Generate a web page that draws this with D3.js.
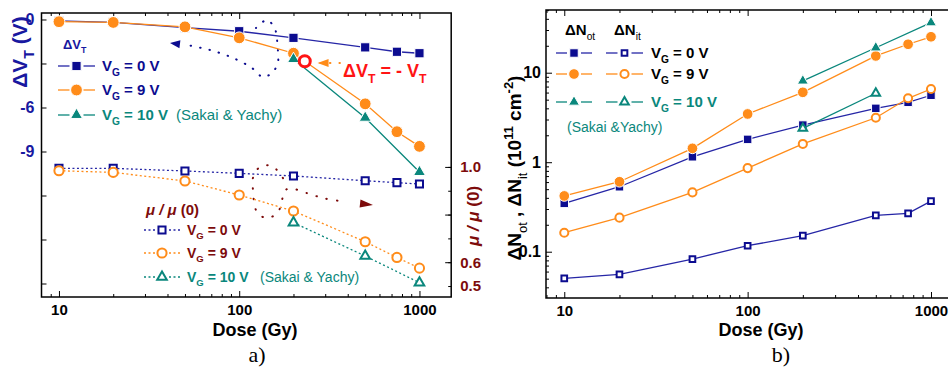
<!DOCTYPE html>
<html lang="en">
<head>
<meta charset="UTF-8">
<title>Dose dependence of VT shift, mobility and trapped charge</title>
<script src="https://d3js.org/d3.v7.min.js"></script>
<style>
  body { margin: 0; background: #fff; }
</style>
</head>
<body>
<div class="chart"></div>
<script>
// ---- data ----
var dose   = [10, 20, 50, 100, 200, 500, 750, 1000];
var doseSY = [200, 500, 1000];          // Sakai & Yachy
var doseSYit = [200, 500];

// a) threshold voltage shift (V)
var dvt0  = [-0.1, -0.2, -0.55, -0.8, -1.25, -1.9, -2.2, -2.3];
var dvt9  = [-0.15, -0.2, -0.5, -1.25, -2.3, -5.75, -7.65, -8.65];
var dvt10 = [-2.7, -6.7, -10.4];

// a) mobility ratio mu/mu(0)
var mu0  = [0.994, 0.994, 0.983, 0.973, 0.962, 0.942, 0.934, 0.928];
var mu9  = [0.984, 0.977, 0.941, 0.882, 0.815, 0.686, 0.62, 0.575];
var mu10 = [0.766, 0.626, 0.514];

// b) trapped charge densities (1e11 cm^-2)
var not0  = [0.347, 0.532, 1.15, 1.8, 2.6, 4.0, 4.67, 5.6];
var not9  = [0.42, 0.605, 1.43, 3.46, 6.04, 15.4, 20.8, 25.2];
var not10 = [8.1, 19, 36.2];
var nit0  = [0.0504, 0.0558, 0.0828, 0.1167, 0.151, 0.255, 0.268, 0.368];
var nit9  = [0.163, 0.24, 0.46, 0.86, 1.6, 3.14, 5.18, 6.58];
var nit10 = [2.39, 5.89];

// ticks
var doseTicks = [10, 100, 1000];
var dvtTicks  = [0, -3, -6, -9, -12, -15, -18];
var dvtLabels = [0, -6, -9];
var muTicks   = [0.5, 0.6, 0.7, 0.8, 0.9, 1.0];
var muMajor   = [0.6, 0.8, 1.0];
var muLabels  = [0.5, 0.6, 1.0];
var nTicks    = [0.1, 1, 10];

// annotations in data units (dose, value)
var loopV  = [[123.9,-0.58],[142.6,-0.03],[157.9,-0.65],[161.9,-1.33],[164,-2.15],[164,-2.9],[153.8,-3.58],[135.4,-3.92],[117.8,-3.31],[92.3,-2.62],[68.8,-2.08],[51.3,-1.74],[41.3,-1.6]];
var loopMu = [[175,0.953],[152.1,1.004],[130.4,1.0],[119.1,0.953],[119.1,0.907],[125.4,0.811],[142.6,0.785],[164.1,0.811],[184.1,0.907],[237.7,0.890],[291.7,0.869],[396.4,0.853],[552,0.840]];
var markVT  = [231, -2.85];
var arrowVT = [[362, -2.97], [272, -2.97]];
var labelVT = [377, -3.92];

// ---- colours ----
var navy = "#0c0c90", navyLine = "#2626a6", orange = "#ff8c1a", teal = "#0a877c",
    maroon = "#7d0b0b", red = "#ff1414", blueText = "#1818a0";

var svg = d3.select(".chart").append("svg")
    .attr("width", 950).attr("height", 367)
    .attr("font-family", "Liberation Sans, Arial, sans-serif")
    .attr("font-weight", "bold");

// helpers
function minors(domain) {
  var out = [];
  for (var k = -3; k <= 4; k++)
    for (var m = 2; m <= 9; m++) {
      var v = m * Math.pow(10, k);
      if (v > domain[0] && v < domain[1]) out.push(v);
    }
  return out;
}

function rich(t, parts, size) {
  var shift = 0;
  parts.forEach(function(p) {
    var s = (p.sub || p.sup) ? size * 0.68 : size;
    var target = p.sub ? size * 0.32 : p.sup ? -size * 0.42 : 0;
    var ts = t.append("tspan").text(p.t).attr("dy", target - shift).attr("font-size", s);
    if (p.i) ts.attr("font-style", "italic");
    if (p.n) ts.attr("font-weight", "normal");
    shift = target;
  });
  return t;
}

function symPath(type, area) {
  var t = type === "sq" ? d3.symbolSquare : type === "ci" ? d3.symbolCircle : d3.symbolTriangle;
  return d3.symbol().type(t).size(area)();
}

function marker(g, type, open, color, x, y, area) {
  g.append("path")
    .attr("d", symPath(type, area))
    .attr("transform", "translate(" + x + "," + y + ")")
    .attr("fill", open ? "#fff" : color)
    .attr("stroke", open ? color : "#fff")
    .attr("stroke-width", open ? 2 : 1);
}

function series(g, xs, ys, xScale, yScale, o) {
  var pts = xs.map(function(d, i) { return [xScale(d), yScale(ys[i])]; });
  g.append("path")
    .attr("d", d3.line()(pts))
    .attr("fill", "none")
    .attr("stroke", o.line || o.color)
    .attr("stroke-width", 1.3)
    .attr("stroke-dasharray", o.dash || null);
  pts.forEach(function(p) { marker(g, o.type, o.open, o.color, p[0], p[1], o.area); });
}

function legendRow(g, x0, x1, y, o) {
  var xm = (x0 + x1) / 2;
  g.append("line").attr("x1", x0).attr("x2", xm - 7).attr("y1", y).attr("y2", y)
    .attr("stroke", o.line || o.color).attr("stroke-width", 1.3).attr("stroke-dasharray", o.dash || null);
  g.append("line").attr("x1", xm + 7).attr("x2", x1).attr("y1", y).attr("y2", y)
    .attr("stroke", o.line || o.color).attr("stroke-width", 1.3).attr("stroke-dasharray", o.dash || null);
  marker(g, o.type, o.open, o.color, xm, y, o.area);
}

function arrowHead(g, tip, from, color, len, wid) {
  var a = Math.atan2(tip[1] - from[1], tip[0] - from[0]);
  var bx = tip[0] - len * Math.cos(a), by = tip[1] - len * Math.sin(a);
  var nx = -Math.sin(a) * wid / 2, ny = Math.cos(a) * wid / 2;
  g.append("path")
    .attr("d", "M" + tip[0] + "," + tip[1] + "L" + (bx + nx) + "," + (by + ny) + "L" + (bx - nx) + "," + (by - ny) + "Z")
    .attr("fill", color);
}

function styleAxis(sel, color, size) {
  sel.select(".domain").remove();
  sel.selectAll("line").attr("stroke", "#000").attr("stroke-width", 1);
  sel.attr("font-family", null);
  sel.selectAll("text").attr("fill", color).attr("font-size", size)
    .attr("font-family", "Liberation Sans, Arial, sans-serif").attr("font-weight", "bold");
}

// =================== panel a) ===================
var xA  = d3.scaleLog().domain([8, 1500]).range([41.5, 451.2]);
var yV  = d3.scaleLinear().domain([-18.92, 0.443]).range([297, 13]);
var yMu = d3.scaleLinear().domain([0.454, 1.646]).range([297, 13]);

var gA = svg.append("g");

// axes (ticks pointing inward)
gA.append("g").attr("transform", "translate(0,297)")
  .call(d3.axisBottom(xA).tickValues(doseTicks).tickSize(-6).tickPadding(7).tickFormat(d3.format("d")))
  .call(styleAxis, "#000", 15);
gA.append("g").attr("transform", "translate(0,297)")
  .call(d3.axisBottom(xA).tickValues(minors(xA.domain())).tickSize(-3).tickFormat(""))
  .call(styleAxis, "#000", 15);
gA.append("g").attr("transform", "translate(0,13)")
  .call(d3.axisTop(xA).tickValues(doseTicks).tickSize(-6).tickFormat(""))
  .call(styleAxis, "#000", 15);
gA.append("g").attr("transform", "translate(0,13)")
  .call(d3.axisTop(xA).tickValues(minors(xA.domain())).tickSize(-3).tickFormat(""))
  .call(styleAxis, "#000", 15);
gA.append("g").attr("transform", "translate(41.5,0)")
  .call(d3.axisLeft(yV).tickValues(dvtTicks).tickSize(-5).tickPadding(7)
        .tickFormat(function(d) { return dvtLabels.indexOf(d) >= 0 ? String(d) : ""; }))
  .call(styleAxis, blueText, 16);
gA.append("g").attr("transform", "translate(451.2,0)")
  .call(d3.axisRight(yMu).tickValues(muTicks).tickSize(-3).tickPadding(9)
        .tickFormat(function(d) { return muLabels.indexOf(d) >= 0 ? d3.format(".1f")(d) : ""; }))
  .call(styleAxis, maroon, 15);
gA.append("g").attr("transform", "translate(451.2,0)")
  .call(d3.axisRight(yMu).tickValues(muMajor).tickSize(-6).tickFormat(""))
  .call(styleAxis, maroon, 15);

gA.append("rect").attr("x", 41.5).attr("y", 13).attr("width", 409.7).attr("height", 284)
  .attr("fill", "none").attr("stroke", "#000").attr("stroke-width", 1.5);

// axis titles
rich(gA.append("text").attr("transform", "translate(27,52) rotate(-90)")
  .attr("text-anchor", "middle").attr("fill", blueText),
  [{t: "\u0394V"}, {t: "T", sub: 1}, {t: " (V)"}], 21);
rich(gA.append("text").attr("transform", "translate(479,216) rotate(-90)")
  .attr("text-anchor", "middle").attr("fill", maroon),
  [{t: "\u03bc / \u03bc", i: 1}, {t: " (0)"}], 17);
gA.append("text").attr("x", 255).attr("y", 336).attr("text-anchor", "middle")
  .attr("font-size", 18).text("Dose (Gy)");
gA.append("text").attr("x", 257).attr("y", 362).attr("text-anchor", "middle")
  .attr("font-size", 22).attr("font-weight", "normal")
  .attr("font-family", "Liberation Serif, Times New Roman, serif").text("a)");

// annotation loops
var curve = d3.line().curve(d3.curveCatmullRom);
var pV = loopV.map(function(d) { return [xA(d[0]), yV(d[1])]; });
gA.append("path").attr("d", curve(pV.slice(0, -1))).attr("fill", "none")
  .attr("stroke", navy).attr("stroke-width", 2).attr("stroke-linecap", "round")
  .attr("stroke-dasharray", "0.5,9");
arrowHead(gA, pV[pV.length - 1], pV[pV.length - 2], navy, 10, 8);

var pM = loopMu.map(function(d) { return [xA(d[0]), yMu(d[1])]; });
gA.append("path").attr("d", curve(pM.slice(0, -1))).attr("fill", "none")
  .attr("stroke", maroon).attr("stroke-width", 2).attr("stroke-linecap", "round")
  .attr("stroke-dasharray", "0.5,10");
arrowHead(gA, pM[pM.length - 1], pM[pM.length - 2], maroon, 13, 8);

// mobility series (dotted)
series(gA, dose, mu0, xA, yMu, {type: "sq", open: 1, color: navy, line: navyLine, dash: "2,2.5", area: 50});
series(gA, dose, mu9, xA, yMu, {type: "ci", open: 1, color: orange, dash: "2,2.5", area: 66});
series(gA, doseSY, mu10, xA, yMu, {type: "tr", open: 1, color: teal, dash: "2,2.5", area: 40});

// threshold series (solid)
series(gA, dose, dvt0, xA, yV, {type: "sq", open: 0, color: navy, line: navyLine, area: 85});
series(gA, dose, dvt9, xA, yV, {type: "ci", open: 0, color: orange, area: 110});
series(gA, doseSY, dvt10, xA, yV, {type: "tr", open: 0, color: teal, area: 62});

// red mark: dVT = -VT
var pa = arrowVT.map(function(d) { return [xA(d[0]), yV(d[1])]; });
gA.append("line").attr("x1", pa[0][0]).attr("y1", pa[0][1]).attr("x2", pa[1][0]).attr("y2", pa[1][1])
  .attr("stroke", orange).attr("stroke-width", 2).attr("stroke-linecap", "round").attr("stroke-dasharray", "0.5,9");
arrowHead(gA, pa[1], pa[0], orange, 11, 8);
gA.append("circle").attr("cx", xA(markVT[0])).attr("cy", yV(markVT[1])).attr("r", 5.5)
  .attr("fill", "#fff").attr("stroke", red).attr("stroke-width", 3);
rich(gA.append("text").attr("x", xA(labelVT[0])).attr("y", yV(labelVT[1])).attr("fill", red),
  [{t: "\u0394V"}, {t: "T", sub: 1}, {t: " = - V"}, {t: "T", sub: 1}], 18);

// legend: threshold shift
var lgA = gA.append("g");
rich(lgA.append("text").attr("x", 63).attr("y", 49).attr("fill", blueText),
  [{t: "\u0394V"}, {t: "T", sub: 1}], 13);
var rowsA = [
  {y: 66, o: {type: "sq", color: navy, line: navyLine, area: 85}, c: navy, s: "0 V"},
  {y: 90, o: {type: "ci", color: orange, area: 110}, c: navy, s: "9 V"},
  {y: 115, o: {type: "tr", color: teal, area: 62}, c: teal, s: "10 V", ref: 1}
];
rowsA.forEach(function(r) {
  legendRow(lgA, 58, 95, r.y, r.o);
  rich(lgA.append("text").attr("x", 102).attr("y", r.y + 5).attr("fill", r.c),
    [{t: "V"}, {t: "G", sub: 1}, {t: " = " + r.s}], 15);
  if (r.ref) lgA.append("text").attr("x", 176).attr("y", r.y + 5).attr("fill", teal)
    .attr("font-size", 15).attr("font-weight", "normal").text("(Sakai & Yachy)");
});

// legend: mobility
var lgM = gA.append("g");
rich(lgM.append("text").attr("x", 146).attr("y", 215).attr("fill", maroon),
  [{t: "\u03bc / \u03bc", i: 1}, {t: " (0)", sup: 0}], 15);
var rowsM = [
  {y: 230, o: {type: "sq", open: 1, color: navy, line: navyLine, dash: "2,2.5", area: 50}, c: maroon, s: "0 V"},
  {y: 253, o: {type: "ci", open: 1, color: orange, dash: "2,2.5", area: 66}, c: maroon, s: "9 V"},
  {y: 277, o: {type: "tr", open: 1, color: teal, dash: "2,2.5", area: 40}, c: teal, s: "10 V", ref: 1}
];
rowsM.forEach(function(r) {
  legendRow(lgM, 144, 180, r.y, r.o);
  rich(lgM.append("text").attr("x", 187).attr("y", r.y + 5).attr("fill", r.c),
    [{t: "V"}, {t: "G", sub: 1}, {t: " = " + r.s}], 14);
  if (r.ref) lgM.append("text").attr("x", 260).attr("y", r.y + 5).attr("fill", teal)
    .attr("font-size", 14).attr("font-weight", "normal").text("(Sakai & Yachy)");
});

// =================== panel b) ===================
var xB = d3.scaleLog().domain([7.95, 1238]).range([546, 948]);
var yN = d3.scaleLog().domain([0.0304, 50.2]).range([298, 10]);
var gB = svg.append("g");

gB.append("g").attr("transform", "translate(0,298)")
  .call(d3.axisBottom(xB).tickValues(doseTicks).tickSize(-6).tickPadding(7).tickFormat(d3.format("d")))
  .call(styleAxis, "#000", 15);
gB.append("g").attr("transform", "translate(0,298)")
  .call(d3.axisBottom(xB).tickValues(minors(xB.domain())).tickSize(-3).tickFormat(""))
  .call(styleAxis, "#000", 15);
gB.append("g").attr("transform", "translate(0,10)")
  .call(d3.axisTop(xB).tickValues(doseTicks).tickSize(-6).tickFormat(""))
  .call(styleAxis, "#000", 15);
gB.append("g").attr("transform", "translate(0,10)")
  .call(d3.axisTop(xB).tickValues(minors(xB.domain())).tickSize(-3).tickFormat(""))
  .call(styleAxis, "#000", 15);
gB.append("g").attr("transform", "translate(546,0)")
  .call(d3.axisLeft(yN).tickValues(nTicks).tickSize(-6).tickPadding(5).tickFormat(function(d) { return String(d); }))
  .call(styleAxis, "#000", 16);
gB.append("g").attr("transform", "translate(546,0)")
  .call(d3.axisLeft(yN).tickValues(minors(yN.domain())).tickSize(-3).tickFormat(""))
  .call(styleAxis, "#000", 16);

gB.append("path").attr("d", "M948,10H546V298H948")
  .attr("fill", "none").attr("stroke", "#000").attr("stroke-width", 1.5);

rich(gB.append("text").attr("transform", "translate(521,168) rotate(-90)")
  .attr("text-anchor", "middle").attr("fill", "#000"),
  [{t: "\u0394N"}, {t: "ot", sub: 1, n: 1}, {t: " , \u0394N"}, {t: "it", sub: 1, n: 1},
   {t: " (10"}, {t: "11", sup: 1}, {t: " cm"}, {t: "-2", sup: 1}, {t: ")"}], 19);
gB.append("text").attr("x", 761).attr("y", 336).attr("text-anchor", "middle")
  .attr("font-size", 18).text("Dose (Gy)");
gB.append("text").attr("x", 781).attr("y", 362).attr("text-anchor", "middle")
  .attr("font-size", 22).attr("font-weight", "normal")
  .attr("font-family", "Liberation Serif, Times New Roman, serif").text("b)");

series(gB, dose, not0, xB, yN, {type: "sq", color: navy, line: navyLine, area: 72});
series(gB, dose, not9, xB, yN, {type: "ci", color: orange, area: 90});
series(gB, doseSY, not10, xB, yN, {type: "tr", color: teal, area: 52});
series(gB, dose, nit0, xB, yN, {type: "sq", open: 1, color: navy, line: navyLine, area: 32});
series(gB, dose, nit9, xB, yN, {type: "ci", open: 1, color: orange, area: 52});
series(gB, doseSYit, nit10, xB, yN, {type: "tr", open: 1, color: teal, area: 32});

// legend b)
var lgB = gB.append("g");
rich(lgB.append("text").attr("x", 565).attr("y", 35), [{t: "\u0394N"}, {t: "ot", sub: 1, n: 1}], 15);
rich(lgB.append("text").attr("x", 614).attr("y", 35), [{t: "\u0394N"}, {t: "it", sub: 1, n: 1}], 15);
var rowsB = [
  {y: 53, f: {type: "sq", color: navy, line: navyLine, area: 72}, e: {type: "sq", open: 1, color: navy, line: navyLine, area: 32}, c: "#000", s: "0 V"},
  {y: 74, f: {type: "ci", color: orange, area: 90}, e: {type: "ci", open: 1, color: orange, area: 52}, c: "#000", s: "9 V"},
  {y: 102, f: {type: "tr", color: teal, area: 52}, e: {type: "tr", open: 1, color: teal, area: 32}, c: teal, s: "10 V"}
];
rowsB.forEach(function(r) {
  legendRow(lgB, 556, 592, r.y, r.f);
  legendRow(lgB, 606, 643, r.y, r.e);
  rich(lgB.append("text").attr("x", 651).attr("y", r.y + 5).attr("fill", r.c),
    [{t: "V"}, {t: "G", sub: 1}, {t: " = " + r.s}], 15);
});
lgB.append("text").attr("x", 567).attr("y", 132).attr("fill", teal)
  .attr("font-size", 14).attr("font-weight", "normal").text("(Sakai &Yachy)");
</script>
</body>
</html>
